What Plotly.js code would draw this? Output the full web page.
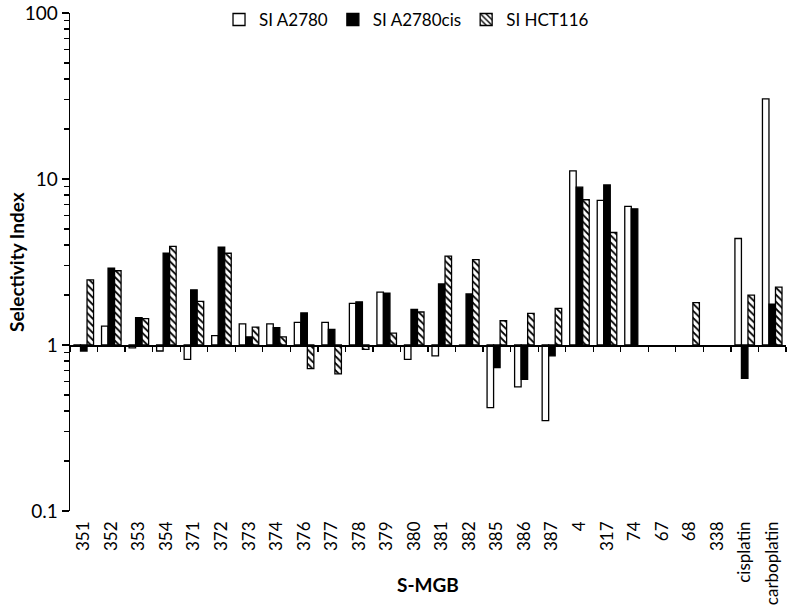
<!DOCTYPE html>
<html>
<head>
<meta charset="utf-8">
<script src="https://cdn.plot.ly/plotly-3.0.1.min.js"></script>
<style>html,body{margin:0;padding:0;background:#fff;}#chart{width:788px;height:609px;}</style>
</head>
<body>
<div id="chart"></div>
<script>
const categories = ['351','352','353','354','371','372','373','374','376','377','378','379','380','381','382','385','386','387','4','317','74','67','68','338','cisplatin','carboplatin'];
const siA2780 =    [0.98,1.30,0.96,0.92,0.82,1.14,1.34,1.34,1.37,1.37,1.78,2.08,0.82,0.86,0.99,0.42,0.56,0.35,11.2,7.44,6.85,null,null,null,4.38,30.4];
const siA2780cis = [0.92,2.90,1.46,3.57,2.15,3.88,1.12,1.27,1.56,1.24,1.82,2.05,1.64,2.33,2.03,0.73,0.62,0.86,8.93,9.21,6.61,null,null,null,0.63,1.76];
const siHCT116 =   [2.47,2.80,1.44,3.93,1.83,3.57,1.28,1.12,0.72,0.67,0.94,1.18,1.58,3.43,3.27,1.40,1.55,1.66,7.50,4.76,null,null,1.80,null,2.00,2.23];
const seriesNames = ['SI A2780','SI A2780cis','SI HCT116'];
const yTickVals = [0.1, 1, 10, 100];
const yTickText = ['0.1', '1', '10', '100'];
const baseline = 1;
const decades = [0.1, 1, 10];
const minorSteps = [2,3,4,5,6,7,8,9];

const FONT = 'Lato, "Open Sans", sans-serif';
const rel = arr => arr.map(v => v == null ? null : v - baseline);
const line = {color:'#000', width:1.3};
const minorVals = [];
decades.forEach(d => minorSteps.forEach(m => minorVals.push(d * m)));

const traces = [
  {type:'bar', name:seriesNames[0], x:categories, y:rel(siA2780), base:baseline,
   marker:{color:'#fff', line:line}, hoverinfo:'skip'},
  {type:'bar', name:seriesNames[1], x:categories, y:rel(siA2780cis), base:baseline,
   marker:{color:'#000', line:line}, hoverinfo:'skip'},
  {type:'bar', name:seriesNames[2], x:categories, y:rel(siHCT116), base:baseline,
   marker:{color:'#fff', line:line, pattern:{shape:'\\', fgcolor:'#000', bgcolor:'#fff', size:5, solidity:0.35}}, hoverinfo:'skip'},
  {type:'scatter', mode:'none', x:categories, y:categories.map(() => baseline), xaxis:'x2',
   showlegend:false, hoverinfo:'skip'},
  {type:'scatter', mode:'none', x:categories, y:categories.map(() => baseline), yaxis:'y2',
   showlegend:false, hoverinfo:'skip'}
];

const layout = {
  width:788, height:609,
  margin:{l:70, r:2, t:9, b:98},
  paper_bgcolor:'#fff', plot_bgcolor:'#fff',
  font:{family:FONT, size:18, color:'#000'},
  barmode:'group', bargap:0.29, bargroupgap:0,
  showlegend:true,
  legend:{orientation:'h', x:0.47, xanchor:'center', y:0.986, yanchor:'middle',
          font:{family:FONT, size:17, color:'#000'}, itemwidth:30, bgcolor:'rgba(0,0,0,0)'},
  xaxis:{type:'category', range:[-0.5, categories.length-0.5], showline:false, ticks:'',
         tickangle:-90, tickfont:{family:FONT, size:17, color:'#000'}, showgrid:false, zeroline:false,
         ticklabelstandoff:6, automargin:false},
  xaxis2:{type:'category', overlaying:'x', anchor:'free', position:1/3, side:'bottom',
          range:[-0.5, categories.length-0.5], showline:true, linecolor:'#000', linewidth:1.5,
          ticks:'outside', tickson:'boundaries', ticklen:5, tickwidth:1.3, tickcolor:'#000',
          showticklabels:false, showgrid:false, zeroline:false},
  yaxis:{type:'log', range:[-1, 2], tickmode:'array', tickvals:yTickVals, ticktext:yTickText,
         showline:true, linecolor:'#000', linewidth:1.5,
         ticks:'outside', ticklen:7, tickwidth:1.3, tickcolor:'#000', showgrid:false, zeroline:false,
         tickfont:{family:FONT, size:19, color:'#000'}, automargin:false},
  yaxis2:{type:'log', range:[-1, 2], overlaying:'y', anchor:'x', side:'left',
          tickmode:'array', tickvals:minorVals, ticks:'outside', ticklen:5, tickwidth:1.3, tickcolor:'#000',
          showticklabels:false, showgrid:false, zeroline:false, showline:false},
  annotations:[
    {text:'<b>S-MGB</b>', xref:'paper', yref:'paper', x:0.5, y:-0.147, xanchor:'center', yanchor:'middle',
     showarrow:false, font:{family:FONT, size:19, color:'#000'}},
    {text:'<b>Selectivity Index</b>', xref:'paper', yref:'paper', x:-0.0754, y:0.5, xanchor:'center', yanchor:'middle',
     textangle:-90, showarrow:false, font:{family:FONT, size:19, color:'#000'}}
  ]
};

Plotly.newPlot('chart', traces, layout, {displayModeBar:false, staticPlot:true});
</script>
</body>
</html>
